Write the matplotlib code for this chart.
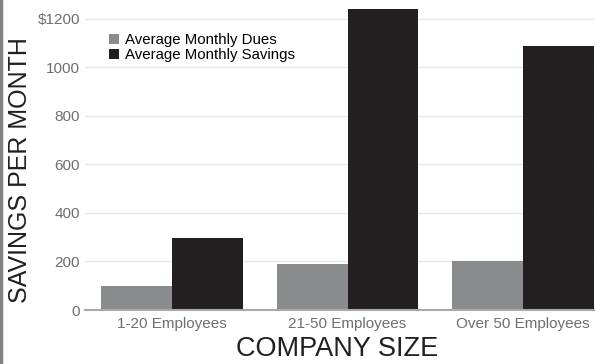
import numpy as np
import matplotlib.pyplot as plt
from matplotlib.lines import Line2D

plt.rcParams['font.family'] = ['Liberation Sans', 'DejaVu Sans']

# data
categories = ["1-20 Employees", "21-50 Employees", "Over 50 Employees"]
dues = [100, 190, 200]
savings = [295, 1240, 1090]
series_names = ["Average Monthly Dues", "Average Monthly Savings"]
yticks = [0, 200, 400, 600, 800, 1000, 1200]
ytick_labels = ["0", "200", "400", "600", "800", "1000", "$1200"]

gray = "#8a8b8d"
dark = "#231f20"
tick_col = "#6d6e70"

fig = plt.figure(figsize=(5.95, 3.64), dpi=100)
ax = fig.add_axes([85 / 595, 54 / 364, 510 / 595, 310 / 364])

x = np.arange(len(categories))
w = 0.404
ax.bar(x - w / 2, dues, width=w, color=gray, label=series_names[0], zorder=3)
ax.bar(x + w / 2, savings, width=w, color=dark, label=series_names[1], zorder=3)

ax.set_xlim(-0.496, 2.41)
ax.set_ylim(0, 1278)
ax.set_yticks(yticks)
ax.set_yticklabels(ytick_labels)
ax.set_xticks(x)
ax.set_xticklabels(categories)
ax.tick_params(axis='both', length=0, labelsize=11, colors=tick_col)
ax.tick_params(axis='y', pad=3.6)
ax.tick_params(axis='x', pad=5)

ax.grid(axis='y', color="#e8e8e8", linewidth=1, zorder=0)
for s in ["top", "right", "left"]:
    ax.spines[s].set_visible(False)
ax.spines["bottom"].set_color("#a7a9ac")
ax.spines["bottom"].set_linewidth(1.5)
ax.spines["bottom"].set_zorder(4)

fig.text(337 / 595, 1 - 349 / 364, "COMPANY SIZE", fontsize=19.5,
         color=dark, ha='center', va='center')
fig.text(20 / 595, 1 - 170 / 364, "SAVINGS PER MONTH", rotation=90, fontsize=18,
         color=dark, ha='center', va='center')

leg = ax.legend(loc='upper left', bbox_to_anchor=(0.035, 0.912), frameon=False,
                fontsize=10.8, handlelength=0.65, handleheight=0.65,
                handletextpad=0.45, labelspacing=0.05, borderaxespad=0)

# left border line
fig.add_artist(Line2D([0.002, 0.002], [0, 1], transform=fig.transFigure,
                      color="#808285", linewidth=2.5))

fig.savefig("out.png", dpi=100)
